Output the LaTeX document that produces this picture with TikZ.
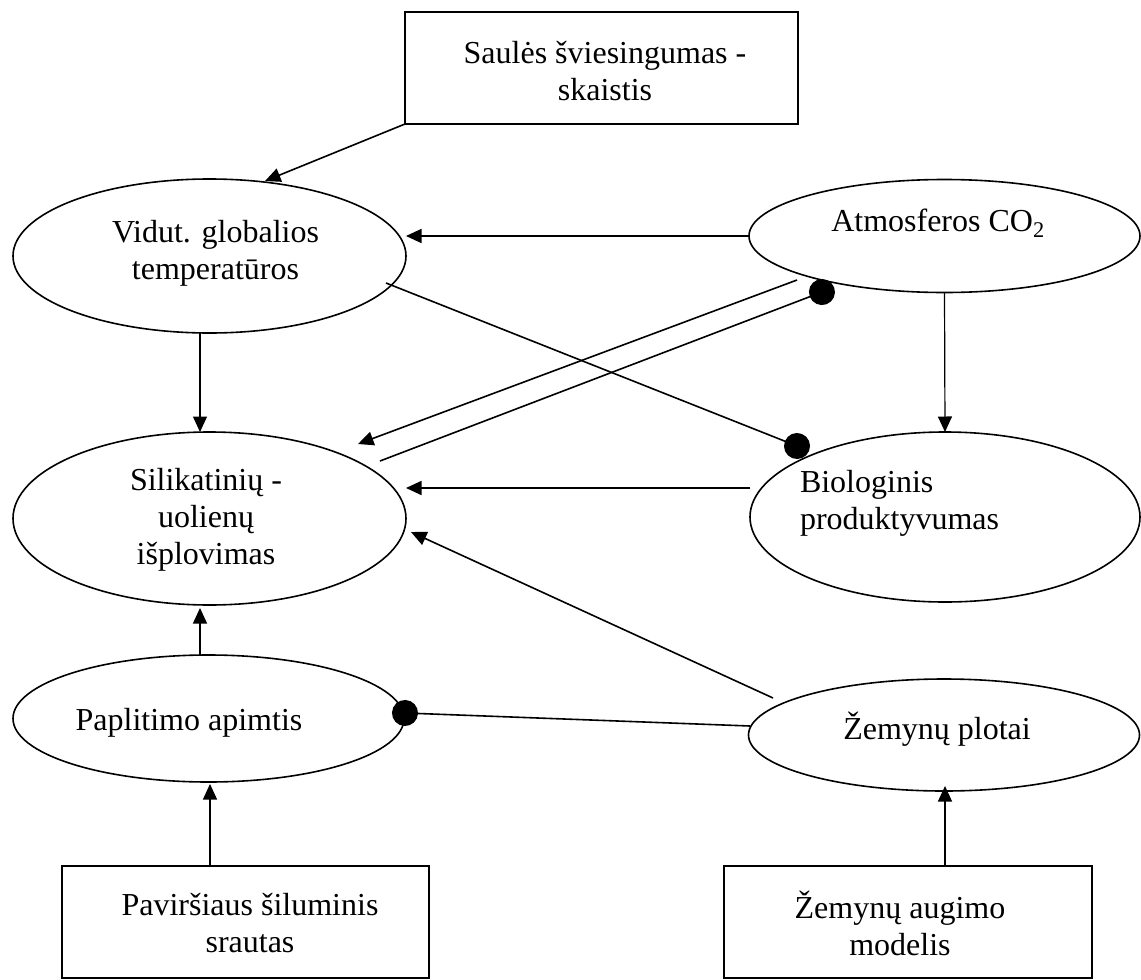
\documentclass[tikz,border=0pt]{standalone}
\usepackage{fontspec}
\setmainfont{Liberation Serif}
\usetikzlibrary{arrows.meta,shapes.geometric,calc}
\begin{document}
\begin{tikzpicture}[x=1pt,y=-1pt,
  every node/.style={inner sep=0pt,outer sep=0pt},
  oval/.style={ellipse,draw,line width=1.6pt},
  boxnode/.style={rectangle,draw,line width=1.8pt},
  txt/.style={font=\fontsize{32}{37}\selectfont,align=center},
  arr/.style={line width=1.6pt,-{Triangle[length=15.5pt,width=14pt]}},
  vert/.style={arr,line width=1.2pt},
  dotline/.style={line width=1.6pt,-{Circle[length=26pt]}},
]
\useasboundingbox (0,0) rectangle (1141,980);
\fill[white] (0,0) rectangle (1141,980);

% boxes and ovals
\node[boxnode,minimum width=393pt,minimum height=112pt] (sun) at (601.5,68) {};
\node[txt] (sunT) at (605,71.5) {Saulės šviesingumas -\\skaistis};

\node[oval,minimum width=393pt,minimum height=154pt] (vidut) at (209.5,256) {};
\node[txt] (vidutT) at (215.5,253.5) {Vidut. globalios\\temperatūros};

\node[oval,minimum width=391pt,minimum height=113pt] (atm) at (944.5,236) {};
\node[txt] (atmT) at (938,223) {Atmosferos CO\textsubscript{2}};

\node[oval,minimum width=393pt,minimum height=173pt] (silikat) at (209.5,518.5) {};
\node[txt] (silikatT) at (206,520) {Silikatinių -\\uolienų\\išplovimas};

\node[oval,minimum width=390pt,minimum height=170pt] (bio) at (945,517) {};
\node[txt,align=left,anchor=west] (bioT) at (800,503.5) {Biologinis\\produktyvumas};

\node[oval,minimum width=391pt,minimum height=127pt] (paplit) at (208.5,718.5) {};
\node[txt] (paplitT) at (189,723) {Paplitimo apimtis};

\node[oval,minimum width=391pt,minimum height=112pt] (zemplot) at (944,735) {};
\node[txt] (zemplotT) at (937,729) {Žemynų plotai};

\node[boxnode,minimum width=367pt,minimum height=112pt] (flux) at (245.5,922) {};
\node[txt] (fluxT) at (250,923.5) {Paviršiaus šiluminis\\srautas};

\node[boxnode,minimum width=368pt,minimum height=112pt] (growth) at (908,922) {};
\node[txt] (growthT) at (900,923.5) {Žemynų augimo\\modelis};

% connectors
\draw[arr] (sun.south west) -- ($(vidut.center)+(55.5,-75)$);
\draw[arr] (atm.west) -- ($(vidut.center)+(196.5,-20)$);
\draw[vert] ($(vidut.center)+(-9.5,77)$) -- ($(silikat.center)+(-9.5,-86.5)$);
\draw[dotline] ($(vidut.center)+(176.5,27)$) -- ($(bio.center)+(-135.9,-66.2)$);
\draw[arr] ($(atm.center)+(-147.5,44)$) -- ($(silikat.center)+(148.5,-74.5)$);
\draw[dotline] ($(silikat.center)+(170.5,-57.5)$) -- ($(atm.center)+(-110.4,51.4)$);
\draw[vert] (atm.south) -- (bio.north);
\draw[arr] ($(bio.center)+(-195,-29)$) -- ($(silikat.center)+(196.5,-30.5)$);
\draw[arr] ($(zemplot.center)+(-171,-37)$) -- ($(silikat.center)+(201.5,13.5)$);
\draw[dotline] ($(zemplot.center)+(-194,-9)$) -- ($(paplit.center)+(183.5,-6)$);
\draw[vert] ($(paplit.center)+(-8.5,-63.5)$) -- ($(silikat.center)+(-9.5,89.5)$);
\draw[vert] ($(flux.center)+(-35.5,-56)$) -- ($(paplit.center)+(1.5,65.5)$);
\draw[vert] ($(growth.center)+(37,-56)$) -- ($(zemplot.center)+(1,51)$);
\end{tikzpicture}
\end{document}
